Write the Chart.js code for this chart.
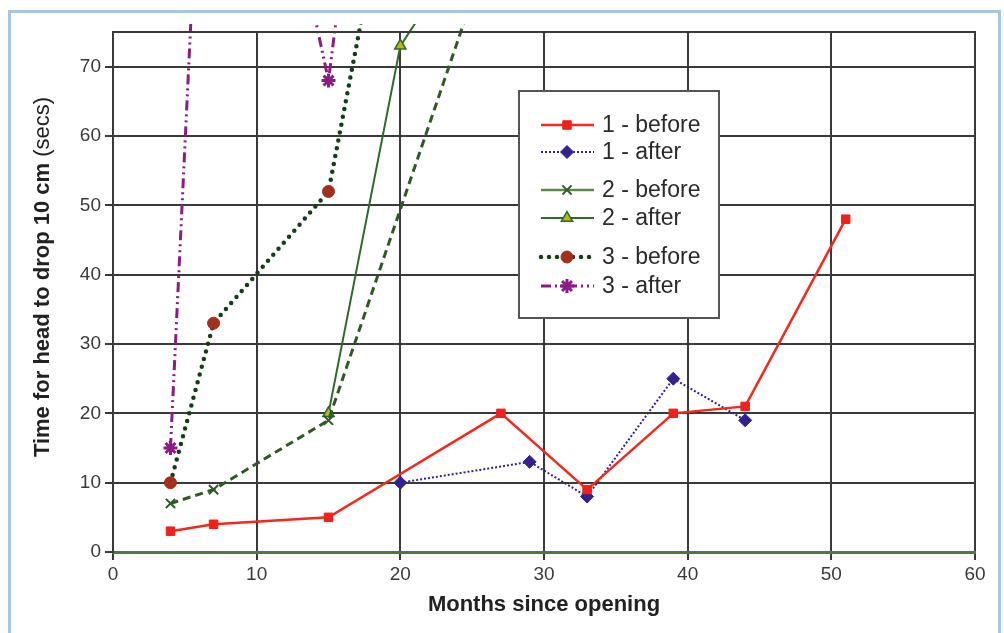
<!DOCTYPE html>
<html>
<head>
<meta charset="utf-8">
<script src="https://cdn.jsdelivr.net/npm/chart.js@4/dist/chart.umd.min.js"></script>
<style>
html,body{margin:0;padding:0;background:#fff;}
#wrap{position:relative;width:1004px;height:633px;}
</style>
</head>
<body>
<div id="wrap"><canvas id="c" width="1004" height="633"></canvas></div>
<script>
// ---- data ----
const months1Before = [4, 7, 15, 27, 33, 39, 44, 51];
const values1Before = [3, 4, 5, 20, 9, 20, 21, 48];
const months1After = [20, 29, 33, 39, 44];
const values1After = [10, 13, 8, 25, 19];
const months2Before = [4, 7, 15, 27];
const values2Before = [7, 9, 19, 92];
const months2After = [15, 20, 27];
const values2After = [20, 73, 95];
const months3Before = [4, 7, 15, 20];
const values3Before = [10, 33, 52, 106];
const months3After = [4, 7, 15, 20];
const values3After = [15, 145, 68, 150];
const seriesLabels = ['1 - before', '1 - after', '2 - before', '2 - after', '3 - before', '3 - after'];
const xTicks = [0, 10, 20, 30, 40, 50, 60];
const yTicks = [0, 10, 20, 30, 40, 50, 60, 70];
const xTitle = 'Months since opening';
const yTitleBold = 'Time for head to drop 10 cm ';
const yTitleNormal = '(secs)';

function pts(xs, ys) { return xs.map((x, i) => ({x: x, y: ys[i]})); }

const clipOpt = {left: 4, top: 8, right: 4, bottom: 4};
const FONT = '"Liberation Sans", Arial, sans-serif';

const datasets = [
  {label: seriesLabels[0], data: pts(months1Before, values1Before), borderColor: '#f5281e', borderWidth: 2.5,
   pointStyle: 'rect', pointRadius: 6, pointBackgroundColor: '#f0201a', pointBorderColor: '#f0201a', pointBorderWidth: 1, borderDash: []},
  {label: seriesLabels[1], data: pts(months1After, values1After), borderColor: '#35208f', borderWidth: 2,
   pointStyle: 'rectRot', pointRadius: 6.5, pointBackgroundColor: '#35208f', pointBorderColor: '#35208f', pointBorderWidth: 1, borderDash: [2, 2]},
  {label: seriesLabels[2], data: pts(months2Before, values2Before), borderColor: '#2f5a26', borderWidth: 3,
   pointStyle: 'crossRot', pointRadius: 6.5, pointBackgroundColor: '#2f5a26', pointBorderColor: '#2f5a26', pointBorderWidth: 2, borderDash: [8, 5]},
  {label: seriesLabels[3], data: pts(months2After, values2After), borderColor: '#2e6a2a', borderWidth: 2,
   pointStyle: 'triangle', pointRadius: 6.5, pointBackgroundColor: '#b8b818', pointBorderColor: '#2e6a2a', pointBorderWidth: 1.5, borderDash: []},
  {label: seriesLabels[4], data: pts(months3Before, values3Before), borderColor: '#123f16', borderWidth: 4.5,
   pointStyle: 'circle', pointRadius: 6, pointBackgroundColor: '#a3301a', pointBorderColor: '#a3301a', pointBorderWidth: 1, borderDash: [0, 8], borderCapStyle: 'round'},
  {label: seriesLabels[5], data: pts(months3After, values3After), borderColor: '#8e1a86', borderWidth: 3,
   pointStyle: 'star', pointRadius: 7, pointBackgroundColor: '#8e1a86', pointBorderColor: '#8e1a86', pointBorderWidth: 3, borderDash: [10, 4, 2, 4, 2, 4]}
];
datasets.forEach(d => { d.fill = false; d.tension = 0; d.clip = clipOpt; d.showLine = true; });
// legend samples that differ from the plotted line style
const legendLineOverride = {2: {color: '#5b8a4c', dash: [], width: 2.5}};

const frame = {
  id: 'frame',
  beforeDraw(chart) {
    const ctx = chart.ctx;
    ctx.save();
    ctx.fillStyle = '#fff';
    ctx.fillRect(0, 0, chart.width, chart.height);
    ctx.strokeStyle = '#a9c5e6';
    ctx.lineWidth = 3;
    ctx.strokeRect(9.5, 11.5, 990, 640);
    ctx.restore();
  },
  afterDatasetsDraw(chart) {
    const ctx = chart.ctx, a = chart.chartArea;
    ctx.save();
    ctx.strokeStyle = '#3a3a3a';
    ctx.lineWidth = 2;
    ctx.beginPath(); ctx.moveTo(a.left - 1, a.top); ctx.lineTo(a.right + 1, a.top); ctx.stroke();
    // y title (bold + regular)
    ctx.translate(43, 277);
    ctx.rotate(-Math.PI / 2);
    ctx.textBaseline = 'middle';
    ctx.fillStyle = '#222';
    const fb = 'bold 22px ' + FONT;
    const fn = '22px ' + FONT;
    ctx.font = fb; const wb = ctx.measureText(yTitleBold).width;
    ctx.font = fn; const wn = ctx.measureText(yTitleNormal).width;
    const x0 = -(wb + wn) / 2;
    ctx.font = fb; ctx.textAlign = 'left'; ctx.fillText(yTitleBold, x0, 0);
    ctx.font = fn; ctx.fillText(yTitleNormal, x0 + wb, 0);
    ctx.restore();

    // legend
    ctx.save();
    const bx = 519, by = 91, bw = 200, bh = 227;
    ctx.fillStyle = '#fff';
    ctx.fillRect(bx, by, bw, bh);
    ctx.strokeStyle = '#555';
    ctx.lineWidth = 2;
    ctx.strokeRect(bx, by, bw, bh);
    const rows = [125, 152, 190, 218, 257, 286];
    chart.data.datasets.forEach((ds, i) => {
      const y = rows[i];
      const ov = legendLineOverride[i] || {};
      ctx.save();
      ctx.strokeStyle = ov.color || ds.borderColor;
      ctx.lineWidth = ov.width || ds.borderWidth;
      ctx.lineCap = ds.borderCapStyle || 'butt';
      ctx.setLineDash(ov.dash || ds.borderDash || []);
      ctx.beginPath(); ctx.moveTo(541, y); ctx.lineTo(594, y); ctx.stroke();
      ctx.setLineDash([]);
      ctx.fillStyle = ds.pointBackgroundColor;
      ctx.strokeStyle = ds.pointBorderColor;
      ctx.lineWidth = ds.pointBorderWidth;
      Chart.helpers.drawPoint(ctx, {pointStyle: ds.pointStyle, radius: ds.pointRadius, borderWidth: ds.pointBorderWidth, rotation: 0}, 567, y);
      ctx.restore();
      ctx.fillStyle = '#2a2a2a';
      ctx.font = '23px ' + FONT;
      ctx.textBaseline = 'middle';
      ctx.textAlign = 'left';
      ctx.fillText(ds.label, 602, y + 1);
    });
    ctx.restore();
  }
};

new Chart(document.getElementById('c'), {
  type: 'scatter',
  data: {datasets: datasets},
  plugins: [frame],
  options: {
    responsive: false,
    animation: false,
    layout: {padding: {left: 0, top: 32, right: 29, bottom: 0}},
    plugins: {legend: {display: false}, tooltip: {enabled: false}},
    scales: {
      x: {
        type: 'linear', min: 0, max: 60,
        afterBuildTicks: s => { s.ticks = xTicks.map(v => ({value: v})); },
        afterFit: s => { s.height = 81; },
        grid: {color: '#3a3a3a', lineWidth: 2, tickLength: 8, drawTicks: true},
        border: {color: '#4d7a42', width: 3},
        ticks: {color: '#3a3a3a', font: {family: FONT, size: 19}, padding: 3, maxRotation: 0, autoSkip: false},
        title: {display: true, text: xTitle, color: '#222', font: {family: FONT, size: 22, weight: 'bold'}, padding: {top: 0, bottom: 15}}
      },
      y: {
        type: 'linear', min: 0, max: 75,
        afterBuildTicks: s => { s.ticks = yTicks.map(v => ({value: v})); },
        afterFit: s => { s.width = 113; },
        grid: {color: '#3a3a3a', lineWidth: 2, tickLength: 8, drawTicks: true},
        border: {color: '#3a3a3a', width: 2},
        ticks: {color: '#3a3a3a', font: {family: FONT, size: 19}, padding: 4, autoSkip: false}
      }
    }
  }
});
</script>
</body>
</html>
